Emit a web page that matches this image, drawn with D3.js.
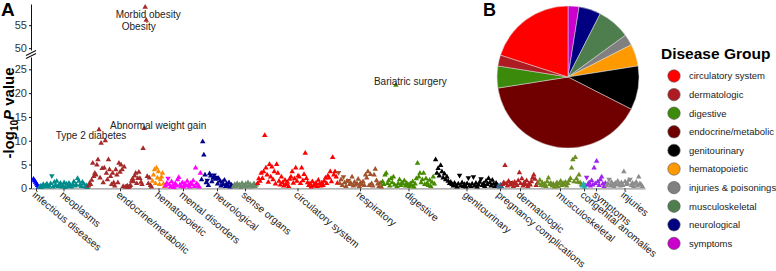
<!DOCTYPE html>
<html>
<head>
<meta charset="utf-8">
<script src="https://cdn.jsdelivr.net/npm/d3@7"></script>
<style>
  body { margin: 0; background: #fff; }
  svg { display: block; font-family: "Liberation Sans", Arial, sans-serif; }
</style>
</head>
<body>
<svg id="chart" width="776" height="271"></svg>
<script>
// Disease groups along the x axis, in plotting order
const groups = ["infectious diseases", "neoplasms", "endocrine/metabolic", "hematopoietic",
  "mental disorders", "neurological", "sense organs", "circulatory system", "respiratory",
  "digestive", "genitourinary", "pregnancy complications", "dermatologic", "musculoskeletal",
  "congenital anomalies", "symptoms", "injuries"];
// number of phenotypes tested per group (sets the width of each group)
const groupCounts = [12, 98, 128, 26, 72, 64, 48, 162, 88, 106, 126, 8, 72, 88, 8, 40, 74];
const groupColors = ["#0000FF", "#008B8B", "#A52A2A", "#FF8C00", "#FF00FF", "#00008B", "#698B69",
  "#FF0000", "#A0522D", "#458B00", "#000000", "#36648B", "#B22222", "#6B8E23", "#20B2AA",
  "#A020F0", "#8C8C8C"];

// -log10 P per phenotype; negative sign = inverse association (down triangle)
const infectiousVals = [1.9, 1.6, 1.3, 0.9, 0.6, 0.3];
const neoplasmVals = [0.3, 0.5, 0.2, 0.8, 0.4, 0.6, 0.9, 0.3, 0.5, 1.0, -2.6, 0.3, 1.3, 0.6, 1.5,
  0.4, 0.7, 1.1, 0.3, 0.5, 1.2, 0.2, 0.9, 0.4, 1.1, 0.6, 0.3, 0.8, 1.4, 0.5, 0.7, 2.1, 1.5, 0.7,
  0.4, 1.3, 0.9, 0.3, 0.6, 0.2];
const endocrineVals = [0.5, 1.1, 0.8, 1.7, 5.3, 2.5, 3.2, 2.8, 4.9, 6.0, 12.3, 2.2, 9.5, 4.2, 1.2,
  4.3, 10.0, 3.2, 1.8, 6.0, 3.9, 2.5, 0.8, 3.2, 1.2, 0.5, 3.9, 2.8, 1.2, 5.3, 3.4, 4.9, 3.9, 0.4,
  4.5, 0.3, 0.3, 0.5, 0.2, 0.4, 0.6, 1.5, 2.0, 1.4, 2.6, 3.2, 1.0, 2.1, 3.4, 2.1, 1.3, 0.8, 8.4,
  12.6, 58.9, 56.1, 2.5, 1.0, 2.2, 0.6, 0.3];
const hematoVals = [1.5, 2.8, 3.9, 1.0, 4.3, 2.2, 3.5, 0.8, 1.8, 2.4, 3.2, 0.9, 0.4];
const mentalVals = [0.5, 1.1, -2.1, 0.8, 0.3, 1.4, 0.6, 0.2, 1.0, 0.5, 1.8, 2.3, 0.7, 0.4, 1.2,
  0.3, 0.9, 0.5, 1.5, 0.6, 0.3, 1.1, 0.8, 1.6, 0.4, 4.3, 1.0, 0.6, 0.3, 3.2];
const neuroVals = [1.8, 9.8, 7.0, 2.8, 1.2, -1.7, 0.6, 3.1, 2.6, 1.4, 2.2, -2.8, 1.9, -2.3, 0.9,
  2.0, 1.5, 0.5, 1.3, 0.8, 1.7, 0.4, 1.0, 0.6, 1.2, 0.3, 0.7, 0.4];
const senseVals = [0.4, 0.8, 0.3, 1.0, 0.5, 0.7, 0.2, 1.1, 0.6, 0.4, 0.9, 0.3, 1.2, 0.5, 0.8,
  0.3, 0.6, 1.0, 0.4, 0.7];
const circulatoryVals = [1.0, 2.0, 1.5, 3.2, 2.1, 3.5, 11.1, 4.3, 2.8, 1.3,
  5.0, 2.4, 4.5, 1.8, 3.5, 0.9, 5.0, 3.2, 1.5, 0.7,
  2.4, 1.2, 0.5, 1.7, 0.8, 1.3, 0.4, 1.9, 2.4, 3.5,
  1.1, 2.0, 4.3, 1.5, 2.6, 2.4, 1.0, 4.3, 1.6, 2.9,
  7.4, 2.1, 1.2, 0.6, 1.0, 0.3, 1.4, 0.5, 0.8, 1.1,
  0.4, 1.7, 0.9, 0.5, 1.2, 0.6, 1.5, 2.2, 1.0, 2.6,
  2.2, 3.5, 1.4, 6.5, 2.8, 3.5, 2.4, 1.1];
const respiratoryVals = [-3.3, 1.0, 1.8, 0.6, -2.4, 1.2, 0.4, 1.5, -1.6, 0.8, 1.1, 2.4, 0.5, 1.3,
  0.7, 1.0, 1.9, 0.4, 1.2, 0.8, 1.4, 0.6, 2.8, 2.2, 3.5, 0.6, 2.9, 1.0, 0.5, 2.8, 4.0, 1.6, 0.9,
  0.4, 1.1, 0.3];
const digestiveVals = [1.4, 0.8, 2.8, 3.2, 1.0, 1.6, 0.5, 2.1, 1.2, 2.4, 0.7, 21.7, 0.4, 1.0,
  1.8, 0.6, 1.2, 0.9, 1.6, 0.5, 1.1, 0.8, 0.4, 1.0, 0.6, 1.4, 0.3, 0.9, 2.0, 5.3, 2.4, 3.2, 1.2,
  1.8, 3.2, 0.8, 2.0, 1.1, 0.6, 1.7, 0.4, 1.3, 2.4, 0.9];
const genitoVals = [6.0, 3.2, 4.2, 2.6, 4.8, 3.5, 2.2, 3.0, 1.8, 2.4, 1.5, 1.0, 1.3, 0.8, 0.5,
  1.1, 0.6, 0.3, 0.9, -2.7, 0.5, 1.2, 0.4, 0.8, 0.3, 1.0, -2.2, 0.6, 0.4, 0.9, -2.4, 0.5, 1.1,
  0.3, 0.7, 1.3, -2.0, 0.6, 1.0, 0.4, 1.5, 0.8, 2.1, 1.2, 0.5, 1.7, 0.9, 0.4, 1.1, 0.6];
const pregnancyVals = [0.5, 0.3, 0.7, 0.4];
const dermVals = [0.8, 1.2, 4.8, 1.0, 0.5, 1.5, -1.2, 0.7, 1.1, 0.4, 1.3, 0.9, 0.6, 1.6, 3.3,
  1.0, 2.0, 0.5, 1.2, 0.8, 1.6, 0.4, 1.0, 0.7, 1.4, 2.2, 2.8, 1.9, 0.6, 1.1];
const musculoVals = [1.0, 1.7, 0.6, 1.2, 0.5, 0.9, 0.4, 1.4, 2.2, 0.8, 1.1, 0.5, 0.9, 0.3, 0.7,
  1.2, 0.4, 1.0, 1.5, 0.6, 1.1, 0.8, 1.3, 0.5, 1.0, 1.6, 2.1, 4.3, 6.0, 1.4, 6.5, 2.0, 1.3, 2.8,
  1.2, 0.7];
const congenitalVals = [0.5, 0.9, 0.3, 0.6];
const symptomVals = [-2.3, 0.8, 1.2, 0.5, 1.6, 0.7, 4.3, 1.0, 5.7, 1.4, 0.6, 1.8, 2.4, 0.9, 0.4, 1.1];
const injuryVals = [0.6, 1.0, -1.9, 0.5, 1.3, 0.8, 0.4, 1.1, 0.7, 1.5, 0.9, 0.5, 1.2, 0.6, 3.5,
  1.4, 0.8, 1.0, 1.7, -1.9, 0.6, 1.1, 0.4, 0.9, 1.3, 0.5, 2.4, 1.0, 0.7, 0.4];

const groupValues = [infectiousVals, neoplasmVals, endocrineVals, hematoVals, mentalVals,
  neuroVals, senseVals, circulatoryVals, respiratoryVals, digestiveVals, genitoVals,
  pregnancyVals, dermVals, musculoVals, congenitalVals, symptomVals, injuryVals];

// labelled phenotypes
const annotLabels = ["Morbid obesity", "Obesity", "Abnormal weight gain", "Type 2 diabetes", "Bariatric surgery"];
const annotGroups = ["endocrine/metabolic", "endocrine/metabolic", "endocrine/metabolic", "endocrine/metabolic", "digestive"];
const annotValues = [58.9, 56.1, 12.6, 12.3, 21.7];

// Panel B: significant phenotypes per disease group
const pieGroups = ["circulatory system", "dermatologic", "digestive", "endocrine/metabolic",
  "genitourinary", "hematopoietic", "injuries & poisonings", "musculoskeletal", "neurological", "symptoms"];
const pieCounts = [8, 1, 2, 16, 4, 2, 1, 3, 2, 1];
const pieColors = ["#FF0000", "#AD1C22", "#3C8A0C", "#700000", "#000000", "#FF9900",
  "#808080", "#4E7E4E", "#000080", "#CC00CC"];

const yLowTicks = [0, 5, 10, 15, 20, 25];
const yHighTicks = [50, 55];

const svg = d3.select("#chart");

// ---- Panel A: Manhattan plot ----
const total = d3.sum(groupCounts);
const x = d3.scaleLinear().domain([-4, total + 4]).range([31, 645]);
const yLow = d3.scaleLinear().domain([0, 27.6]).range([188.3, 57]);
const yHigh = d3.scaleLinear().domain([49.6, 59.6]).range([50, 4]);
const yOf = (v) => (v > 40 ? yHigh(v) : yLow(v));

// build the points
const points = [];
const centers = [];
let start = 0;
groups.forEach((g, gi) => {
  const vals = groupValues[gi];
  const n = vals.length;
  vals.forEach((v, i) => {
    points.push({
      group: g,
      color: groupColors[gi],
      pos: start + ((i + 0.5) * groupCounts[gi]) / n,
      value: Math.abs(v),
      down: v < 0,
    });
  });
  centers.push(start + groupCounts[gi] / 2);
  start += groupCounts[gi];
});

// x axis
const xAxis = svg
  .append("g")
  .attr("transform", "translate(0," + yLow(0) + ")")
  .call(
    d3.axisBottom(x)
      .tickValues(centers)
      .tickFormat((d, i) => groups[i])
      .tickSize(3)
      .tickSizeOuter(0)
  );
xAxis.select(".domain").attr("stroke", "#9a9a9a").attr("stroke-width", 1.3);
xAxis.selectAll(".tick line").attr("stroke", "#333");
xAxis
  .selectAll(".tick text")
  .attr("x", 0)
  .attr("y", 0)
  .attr("dy", "0.72em")
  .attr("transform", "translate(0,2) rotate(40)")
  .style("text-anchor", "start")
  .style("font-size", "10.2px")
  .attr("fill", "#222");

// y axis, lower segment
const yAxisLow = svg
  .append("g")
  .attr("transform", "translate(31,0)")
  .call(d3.axisLeft(yLow).tickValues(yLowTicks).tickSize(2).tickPadding(2).tickSizeOuter(0));
// y axis, upper segment
const yAxisHigh = svg
  .append("g")
  .attr("transform", "translate(31,0)")
  .call(d3.axisLeft(yHigh).tickValues(yHighTicks).tickSize(2).tickPadding(2).tickSizeOuter(0));
[yAxisLow, yAxisHigh].forEach((a) => {
  a.select(".domain").attr("stroke", "#111");
  a.selectAll(".tick line").attr("stroke", "#111");
  a.selectAll(".tick text").style("font-size", "11px").attr("fill", "#333");
});

// break marks
const brk = svg.append("g").attr("stroke", "#111").attr("stroke-width", 1.1);
brk.append("line").attr("x1", 26).attr("y1", 55.5).attr("x2", 36).attr("y2", 50.5);
brk.append("line").attr("x1", 26).attr("y1", 58.5).attr("x2", 36).attr("y2", 53.5);

// y axis title
const yTitle = svg
  .append("text")
  .attr("transform", "translate(14,113) rotate(-90)")
  .attr("text-anchor", "middle")
  .style("font-size", "15px")
  .style("font-weight", "bold")
  .attr("fill", "#000");
yTitle.append("tspan").text("-log");
yTitle.append("tspan").attr("dy", 4).style("font-size", "10px").text("10");
yTitle.append("tspan").attr("dy", -4).style("font-style", "italic").text("P");
yTitle.append("tspan").text(" value");

// points
const tri = d3.symbol(d3.symbolTriangle, 13);
svg
  .append("g")
  .selectAll("path")
  .data(points)
  .enter()
  .append("path")
  .attr("d", tri)
  .attr("transform", (d) =>
    "translate(" + x(d.pos) + "," + yOf(d.value) + ")" + (d.down ? " rotate(180)" : "")
  )
  .attr("fill", (d) => d.color);

// annotations
const nudges = [[3, 7], [-7.5, 6], [14, -3], [-8, 6], [14.5, -3.6]];
annotLabels.forEach((label, i) => {
  const p = points.find((d) => d.group === annotGroups[i] && d.value === annotValues[i]);
  svg
    .append("text")
    .attr("x", x(p.pos) + nudges[i][0])
    .attr("y", yOf(p.value) + nudges[i][1])
    .attr("dy", "0.35em")
    .attr("text-anchor", "middle")
    .style("font-size", "10px")
    .attr("fill", "#222")
    .text(label);
});

// panel letters
svg.append("text").attr("x", 1).attr("y", 16).style("font-size", "19px").style("font-weight", "bold").text("A");
svg.append("text").attr("x", 483).attr("y", 16).style("font-size", "18px").style("font-weight", "bold").text("B");

// ---- Panel B: pie ----
const pieData = pieGroups.map((g, i) => ({ group: g, count: pieCounts[i], color: pieColors[i] })).reverse();
const pie = d3.pie().sort(null).value((d) => d.count);
const arc = d3.arc().innerRadius(0).outerRadius(71);
svg
  .append("g")
  .attr("transform", "translate(568,77)")
  .selectAll("path")
  .data(pie(pieData))
  .enter()
  .append("path")
  .attr("d", arc)
  .attr("fill", (d) => d.data.color)
  .attr("stroke", "#ddd")
  .attr("stroke-width", 0.5);

// legend
svg
  .append("text")
  .attr("x", 661)
  .attr("y", 59)
  .style("font-size", "15.5px")
  .style("font-weight", "bold")
  .text("Disease Group");
const legend = svg
  .append("g")
  .selectAll("g")
  .data(pieGroups)
  .enter()
  .append("g")
  .attr("transform", (d, i) => "translate(674," + (76 + i * 18.6) + ")");
legend
  .append("circle")
  .attr("r", 6.2)
  .attr("fill", (d, i) => pieColors[i])
  .attr("stroke", "#555")
  .attr("stroke-width", 0.6);
legend
  .append("text")
  .attr("x", 15)
  .attr("dy", "0.35em")
  .style("font-size", "9.5px")
  .attr("fill", "#222")
  .text((d) => d);
</script>
</body>
</html>
